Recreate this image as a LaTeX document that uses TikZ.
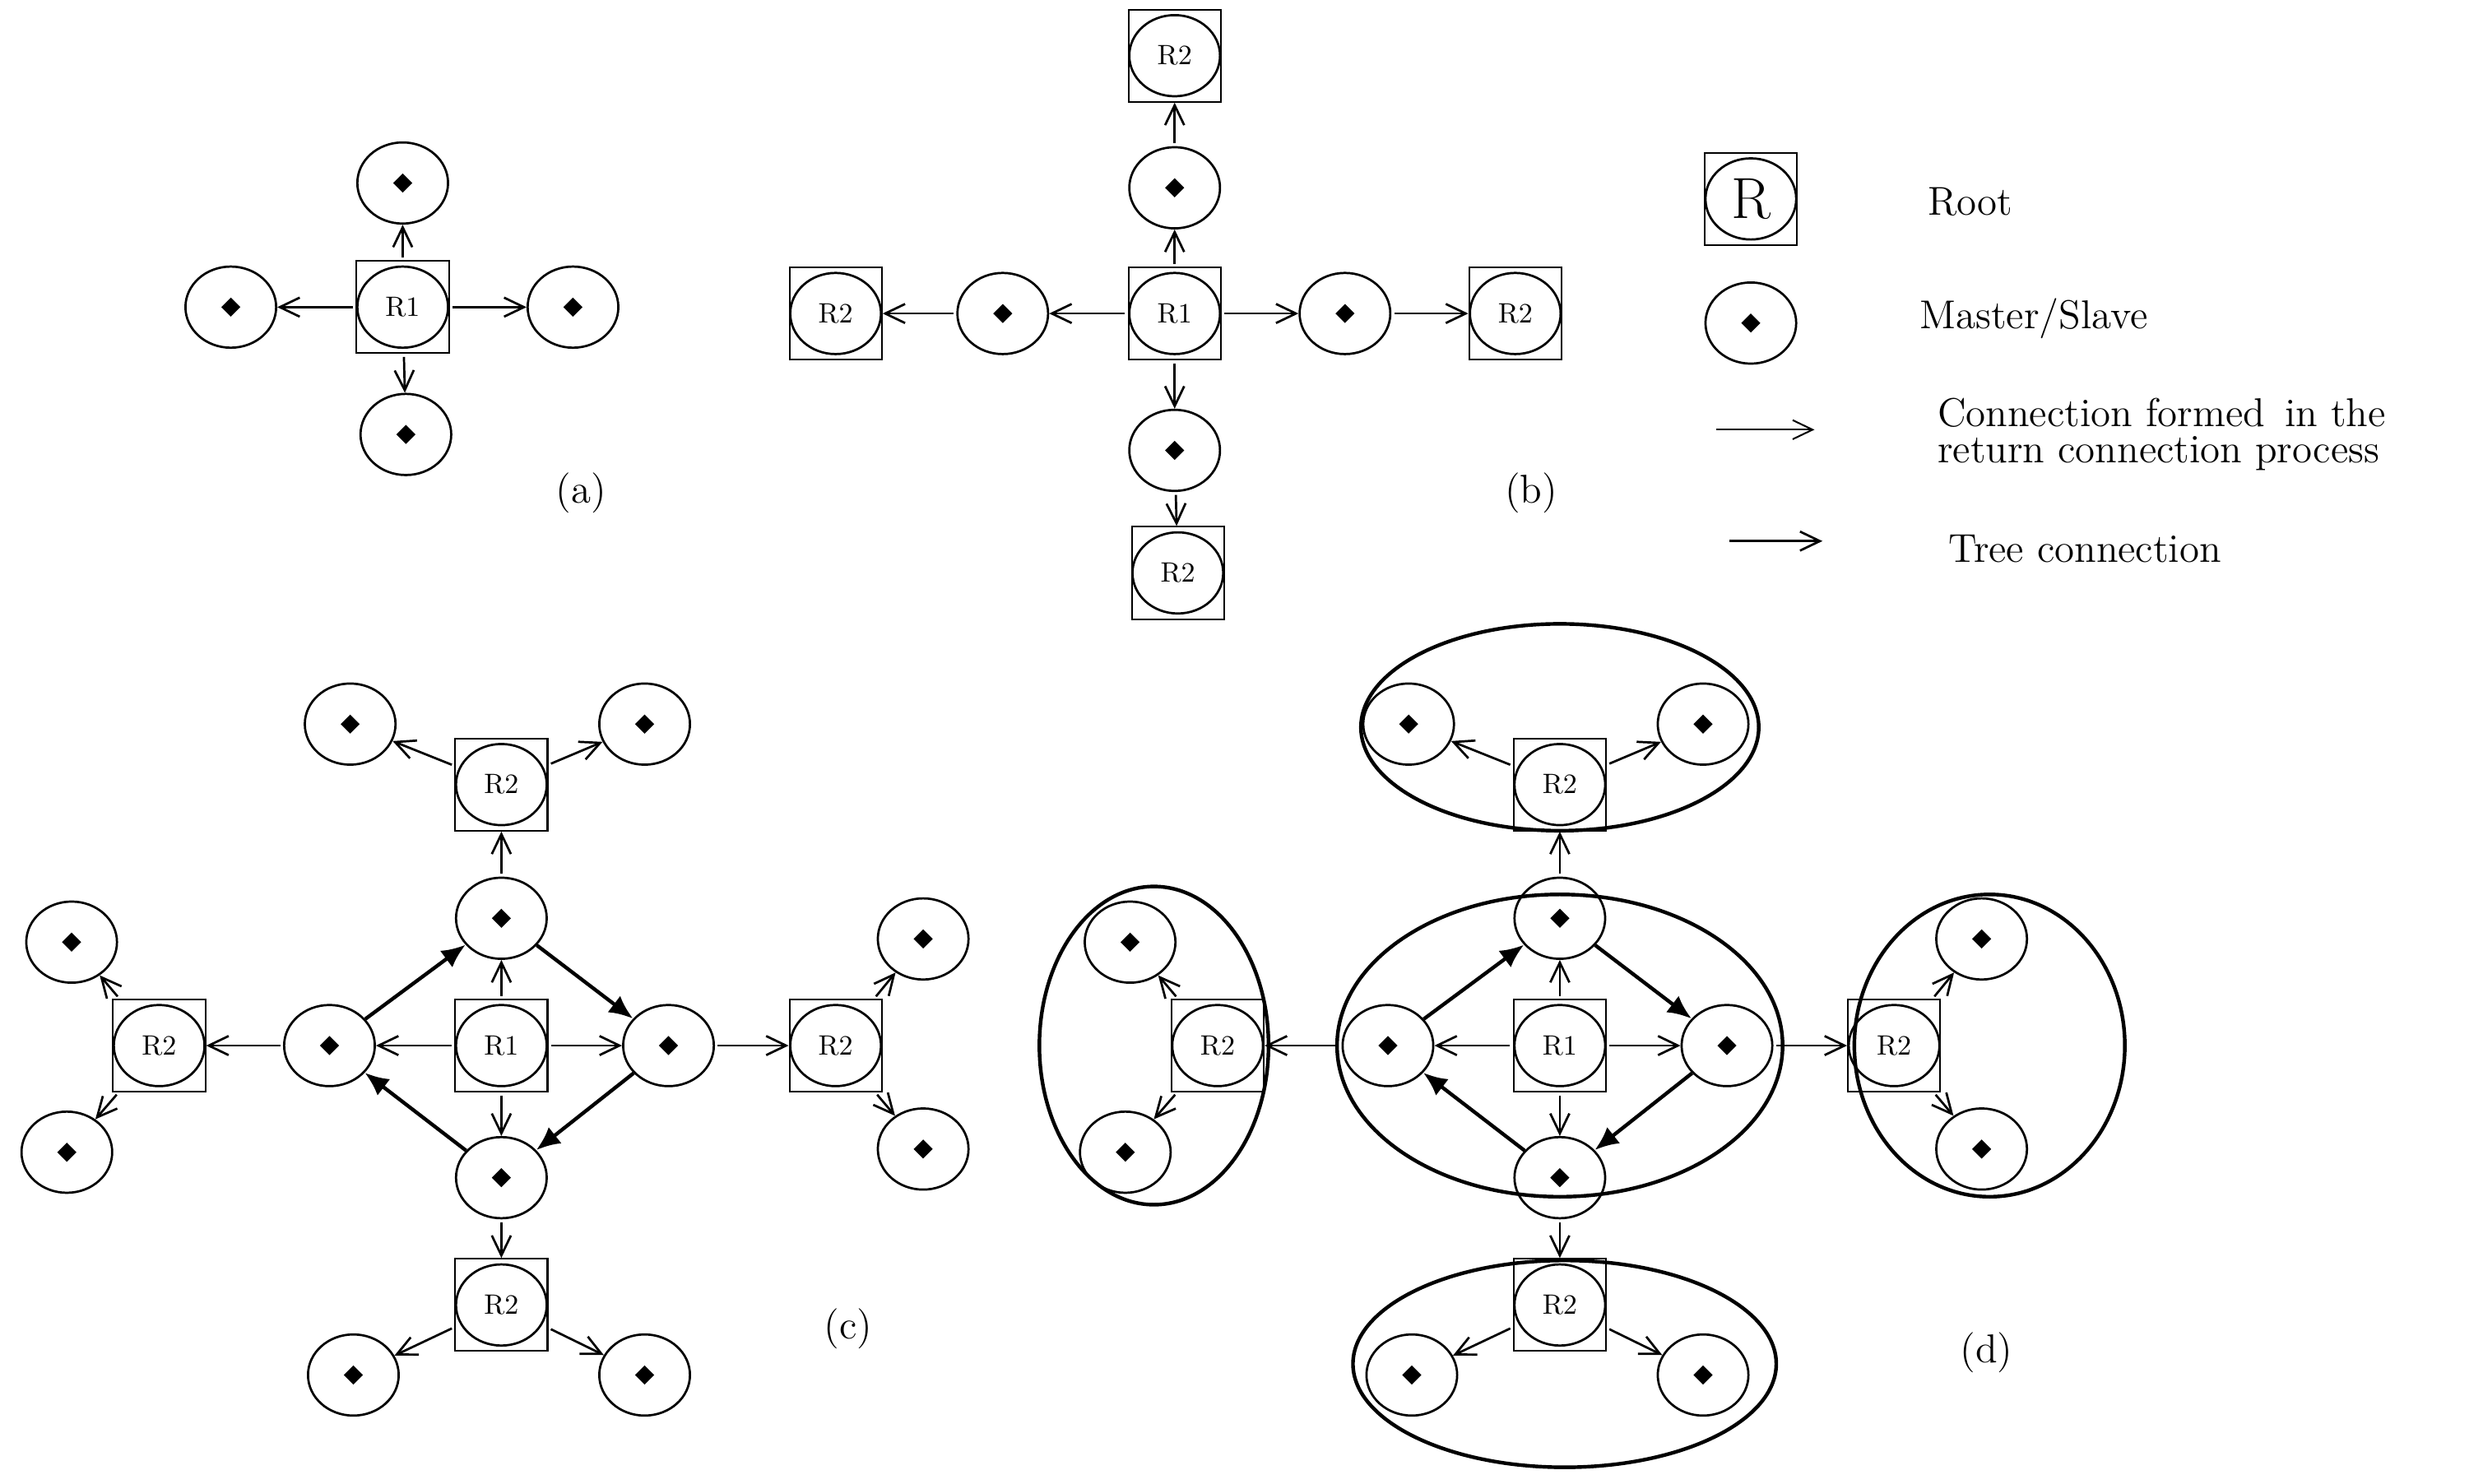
\documentclass[tikz,border=0pt]{standalone}
\usetikzlibrary{shapes.geometric}
\usetikzlibrary{arrows.meta}

\tikzset{
  ms/.style={ellipse,draw,line width=.8pt,minimum width=1.14cm,minimum height=1.02cm,inner sep=0pt,font=\normalsize},
  dot/.style={ms,path picture={\fill (path picture bounding box.center)
      +(0,.12cm) -- +(.12cm,0) -- +(0,-.12cm) -- +(-.12cm,0) -- cycle;}},
  rbox/.style={rectangle,draw,line width=.6pt,minimum size=1.16cm,inner sep=0pt},
  ret/.style={-{Straight Barb[length=2.5mm,width=2.4mm]},line width=.8pt,shorten <=1pt},
  tree/.style={-{Latex[length=3mm,width=2.6mm]},line width=1.3pt},
  grp/.style={draw,line width=1.3pt},
  subcap/.style={font=\Large}
}
% root: box with circle inside, box gets the name
\newcommand\rootnd[3]{
  \node[rbox] (#1) at (#2) {};
  \node[ms] (#1-c) at (#2) {#3};
}
\newcommand\dotnd[2]{\node[dot] (#1) at (#2) {};}

\begin{document}
\begin{tikzpicture}[x=0.02cm,y=-0.02cm]
  \useasboundingbox (0,0) rectangle (1560,932);

  % (a)
  \rootnd{aR}{253,193}{R1}
  \dotnd{aU}{253,115} \dotnd{aL}{145,193}
  \dotnd{aE}{360,193} \dotnd{aD}{255,273}
  \foreach \n in {aU,aL,aE,aD} \draw[ret] (aR) -- (\n);
  \node[subcap] (acap) at (365,310) {(a)};

  % (b)
  \rootnd{bR}{738,197}{R1}
  \dotnd{bU}{738,118} \dotnd{bL}{630,197}
  \dotnd{bE}{845,197} \dotnd{bD}{738,283}
  \rootnd{bUU}{738,35}{R2}  \rootnd{bLL}{525,197}{R2}
  \rootnd{bEE}{952,197}{R2} \rootnd{bDD}{740,360}{R2}
  \foreach \a/\b in {bR/bU,bR/bL,bR/bE,bR/bD,bU/bUU,bL/bLL,bE/bEE,bD/bDD}
    \draw[ret] (\a) -- (\b);
  \node[subcap] (bcap) at (962,310) {(b)};

  % legend
  \rootnd{lR}{1100,125}{\huge R}
  \dotnd{lM}{1100,203}
  \node[subcap,anchor=west] (lt1) at (1205,127) {Root};
  \node[subcap,anchor=west] (lt2) at (1200,200) {Master/Slave};
  \coordinate (l1a) at (1078,270); \coordinate (l1b) at (1140,270);
  \draw[-{Straight Barb[length=2.5mm,width=2.4mm]},line width=.6pt] (l1a) -- (l1b);
  \node[subcap,anchor=west,align=left,inner sep=0pt] (lt3) at (1217,273)
    {Connection formed\, in the\\[-5pt]return connection process};
  \coordinate (l2a) at (1085,340); \coordinate (l2b) at (1145,340);
  \draw[ret] (l2a) -- (l2b);
  \node[subcap,anchor=west] (lt4) at (1218,345) {Tree connection};

  % (c) and (d)
  \foreach \p/\o in {c/0,d/665}{
    \rootnd{\p R}{315+\o,657}{R1}
    \dotnd{\p U}{315+\o,577} \dotnd{\p D}{315+\o,740}
    \dotnd{\p L}{207+\o,657} \dotnd{\p E}{420+\o,657}
    \rootnd{\p UR}{315+\o,493}{R2} \rootnd{\p DR}{315+\o,820}{R2}
    \rootnd{\p LR}{100+\o,657}{R2} \rootnd{\p ER}{525+\o,657}{R2}
    \dotnd{\p U1}{220+\o,455} \dotnd{\p U2}{405+\o,455}
    \dotnd{\p D1}{222+\o,864} \dotnd{\p D2}{405+\o,864}
    \dotnd{\p L1}{45+\o,592}  \dotnd{\p L2}{42+\o,724}
    \dotnd{\p E1}{580+\o,590} \dotnd{\p E2}{580+\o,722}
    \foreach \a/\b in {R/U,R/D,R/L,R/E,U/UR,D/DR,L/LR,E/ER,
        UR/U1,UR/U2,DR/D1,DR/D2,LR/L1,LR/L2,ER/E1,ER/E2}
      \draw[ret] (\p\a) -- (\p\b);
    \foreach \a/\b in {L/U,U/E,E/D,D/L}
      \draw[tree] (\p\a) -- (\p\b);
  }
  \node[subcap] (ccap) at (533,835) {(c)};
  \node[subcap] (dcap) at (1248,850) {(d)};

  % groups in (d)
  \draw[grp] (980,657) ellipse [x radius=2.8cm,y radius=1.9cm];
  \draw[grp] (980,457) ellipse [x radius=2.5cm,y radius=1.3cm];
  \draw[grp] (983,857) ellipse [x radius=2.66cm,y radius=1.3cm];
  \draw[grp] (725,657) ellipse [x radius=1.44cm,y radius=2cm];
  \draw[grp] (1250,657) ellipse [x radius=1.7cm,y radius=1.9cm];
\end{tikzpicture}
\end{document}
